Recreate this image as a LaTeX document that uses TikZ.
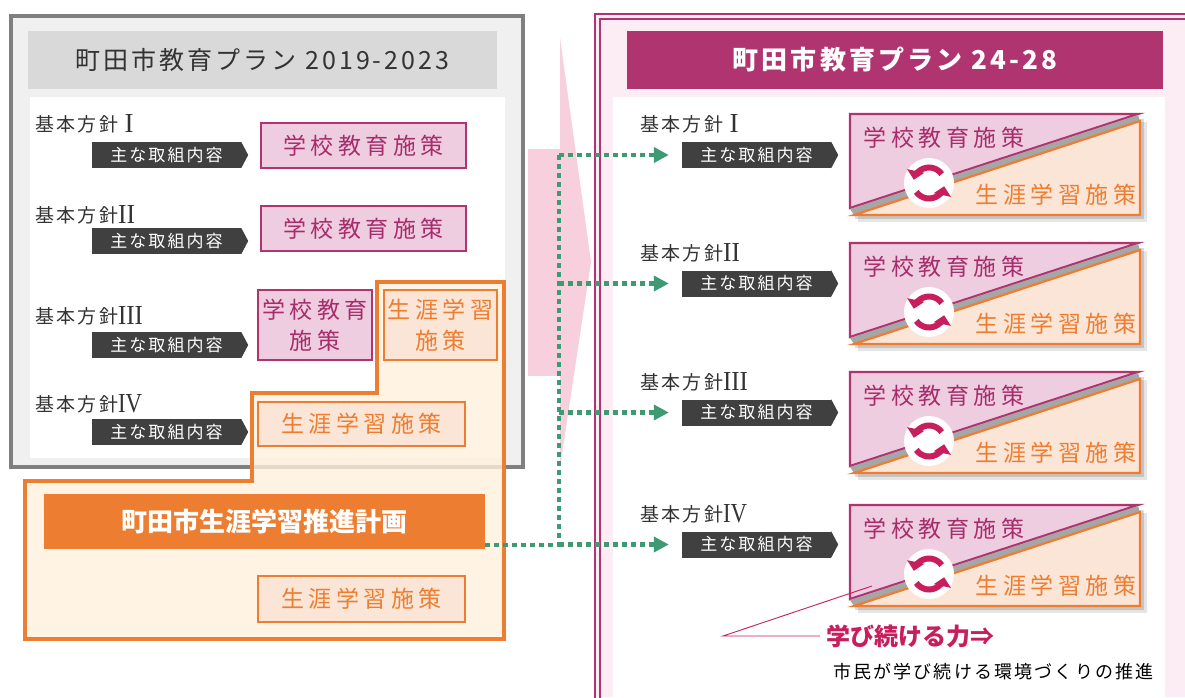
\documentclass[tikz,border=0pt]{standalone}
\usepackage{fontspec}
\usepackage{graphicx}
\setmainfont{Noto Sans CJK JP}
\newfontfamily\jp{Noto Sans CJK JP}
\newfontfamily\jpsp[LetterSpace=12]{Noto Sans CJK JP}
\newfontfamily\jpspw[LetterSpace=20]{Noto Sans CJK JP}
\newfontfamily\romanf{Liberation Serif}
\usetikzlibrary{arrows.meta,calc}
\definecolor{mag}{HTML}{B0346F}
\definecolor{magtxt}{HTML}{A62C6B}
\definecolor{pinkf}{HTML}{EFCDE0}
\definecolor{org}{HTML}{ED7D31}
\definecolor{orgf}{HTML}{FBE5D6}
\definecolor{orgtxt}{HTML}{EE7D2F}
\definecolor{tagc}{HTML}{404040}
\definecolor{grn}{HTML}{3F9A73}
\definecolor{arrowpink}{HTML}{F8CFDD}
\definecolor{gbord}{HTML}{7F7F7F}
\definecolor{gtitle}{HTML}{D9D9D9}
\definecolor{gdots}{HTML}{F0F0F0}
\definecolor{odots}{HTML}{FFF1DC}
\definecolor{pdots}{HTML}{FCECF3}
\definecolor{txt}{HTML}{333333}
\definecolor{iconc}{HTML}{C81E5C}
\newcommand\rn[2]{\raisebox{-1.5pt}{\resizebox{#1}{18pt}{\romanf #2}}}
\newcommand\tribox[2]{%
  \fill[black, opacity=.10] (858,#2+8) rectangle (1147,#2+108);
  \fill[black, opacity=.14] (855,#2+5) rectangle (1144,#2+105);
  \filldraw[fill=pinkf, draw=mag, line width=2.2] (850,#2) -- (1138,#2) -- (850,#2+94) -- cycle;
  \fill[gray!70] (1138,#2+1) -- (1140,#2+7) -- (854,#2+101) -- (850,#2+95) -- cycle;
  \filldraw[fill=orgf, draw=org, line width=2.2] (854,#2+101) -- (1140,#2+7) -- (1140,#2+101) -- cycle;
  \node[tritext, text=magtxt] (#1s) at (944,#2+24) {学校教育施策};
  \node[tritext, text=orgtxt] (#1l) at (1056,#2+81) {生涯学習施策};
  \coordinate (#1c) at (929,#2+69);
  \fill[white] (#1c) circle (25);
  \draw[iconc, line width=6, -{Triangle[length=9pt,width=17pt]}] ([shift={(-35:15.5)}]#1c) arc[start angle=-35, end angle=-168, radius=15.5];
  \draw[iconc, line width=6, -{Triangle[length=9pt,width=17pt]}] ([shift={(-215:15.5)}]#1c) arc[start angle=-215, end angle=-348, radius=15.5];
}
\tikzset{
  lbl/.style={anchor=west, inner sep=0, text=txt, font=\jpsp\fontsize{19}{21}\selectfont},
  tagbox/.style={fill=tagc, text=white, inner sep=0, minimum width=149, minimum height=26, font=\jpsp\fontsize{17}{19}\selectfont},
  pbox/.style={draw=mag, fill=pinkf, line width=2, text=magtxt, inner sep=0, align=center, font=\jpspw\fontsize{23}{31}\selectfont},
  obox/.style={draw=org, fill=orgf, line width=2, text=orgtxt, inner sep=0, align=center, font=\jpspw\fontsize{23}{31}\selectfont},
  tritext/.style={inner sep=0, font=\jpspw\fontsize{23}{25}\selectfont},
  gdot/.style={draw=grn, line width=4.5, dash pattern=on 5pt off 4pt},
  garrow/.style={gdot, -{Triangle[length=15pt,width=15pt]}, shorten >=13pt},
}
\begin{document}
\begin{tikzpicture}[x=1pt, y=-1pt]
\useasboundingbox (0,0) rectangle (1185,697);
\fill[white] (0,0) rectangle (1185,697);

% ---------- left gray plan box ----------
\fill[gdots] (9,14) rectangle (525,469);
\fill[white] (30,97) rectangle (505,458);
\draw[gbord, line width=4] (11,16) rectangle (523,467);
\node[fill=gtitle, minimum width=469, minimum height=58, inner sep=0, text=txt,
      font=\jpsp\fontsize{25}{27}\selectfont] (lttl) at (262.5,60) {町田市教育プラン 2019-2023};

% ---------- orange lifelong-learning region ----------
\filldraw[draw=org, line width=4, fill=odots, fill opacity=.8]
  (377,282) -- (504,282) -- (504,639) -- (25,639) -- (25,481) -- (252,481) -- (252,393) -- (377,393) -- cycle;

% ---------- pink big arrow ----------
\fill[arrowpink] (528,149) rectangle (560,376);
\fill[arrowpink] (560,38) -- (591,262) -- (560,467) -- cycle;

% ---------- left rows ----------
\node[lbl] (ll1) at (35,124) {基本方針 \rn{9pt}{I}};
\node[lbl] (ll2) at (35,215) {基本方針\rn{17pt}{II}};
\node[lbl] (ll3) at (35,316) {基本方針\rn{25pt}{III}};
\node[lbl] (ll4) at (35,404) {基本方針\rn{24pt}{IV}};
\foreach \n/\y in {1/155,2/241,3/345,4/432}{
  \node[tagbox] (lt\n) at (166.5,\y) {主な取組内容};
  \fill[tagc] (lt\n.north east) -- ([xshift=7]lt\n.east) -- (lt\n.south east) -- cycle;
}
\node[pbox, minimum width=205, minimum height=45] (lb1) at (363.5,145.5) {学校教育施策};
\node[pbox, minimum width=205, minimum height=45] (lb2) at (363.5,228.5) {学校教育施策};
\node[pbox, minimum width=114, minimum height=70] (lb3) at (315,325) {学校教育\\施策};
\node[obox, minimum width=113, minimum height=70] (lo3) at (440.5,325) {生涯学習\\施策};
\node[obox, minimum width=207, minimum height=44] (lo4) at (361.5,424) {生涯学習施策};
\node[fill=org, minimum width=441, minimum height=55, inner sep=0, text=white,
      font=\jp\bfseries\fontsize{26}{28}\selectfont] (obar) at (264.5,521.5) {町田市生涯学習推進計画};
\node[obox, minimum width=207, minimum height=46] (lo5) at (361.5,599) {生涯学習施策};

% ---------- right plan box ----------
\fill[pdots] (595,15) rectangle (1185,697);
\fill[white] (613,97) rectangle (1165,697);
\draw[mag, line width=2] (1186,14) -- (595,14) -- (595,698);
\draw[mag, line width=1.2] (1186,19) -- (600,19) -- (600,698);
\node[fill=mag, minimum width=536, minimum height=58, inner sep=0, text=white,
      font=\jpsp\bfseries\fontsize{26}{28}\selectfont] (rttl) at (895,60) {町田市教育プラン 24-28};

\node[lbl] (rl1) at (640,124) {基本方針 \rn{9pt}{I}};
\node[lbl] (rl2) at (640,253) {基本方針\rn{17pt}{II}};
\node[lbl] (rl3) at (640,382) {基本方針\rn{25pt}{III}};
\node[lbl] (rl4) at (640,514) {基本方針\rn{24pt}{IV}};
\foreach \n/\y in {1/155,2/283.5,3/412.5,4/544.5}{
  \node[tagbox] (rt\n) at (756.5,\y) {主な取組内容};
  \fill[tagc] (rt\n.north east) -- ([xshift=7]rt\n.east) -- (rt\n.south east) -- cycle;
}
\tribox{ra}{114}
\tribox{rb}{243}
\tribox{rc}{372}
\tribox{rd}{505}

% ---------- green connectors ----------
\coordinate (jn) at (559,545);
\coordinate (jt) at (559,151);
\draw[gdot] (obar.east |- jn) -- (jn) -- (jt);
\foreach \n in {1,2,3,4}{
  \coordinate (b\n) at (jn |- rt\n.west);
  \draw[garrow] (b\n) -- (rt\n.west);
}

% ---------- callout ----------
\node[anchor=west, inner sep=0, text=iconc, font=\jp\bfseries\fontsize{24}{26}\selectfont] (mk) at (826,636) {学び続ける力⇒};
\node[anchor=west, inner sep=0, text=black, font=\jpsp\fontsize{18}{20}\selectfont] (ct) at (833,672) {市民が学び続ける環境づくりの推進};
\coordinate (cA) at (723,636);
\coordinate (cB) at (872,586);
\draw[iconc, line width=0.9] (cB) -- (cA) -- ([xshift=-6]mk.west);
\end{tikzpicture}
\end{document}
